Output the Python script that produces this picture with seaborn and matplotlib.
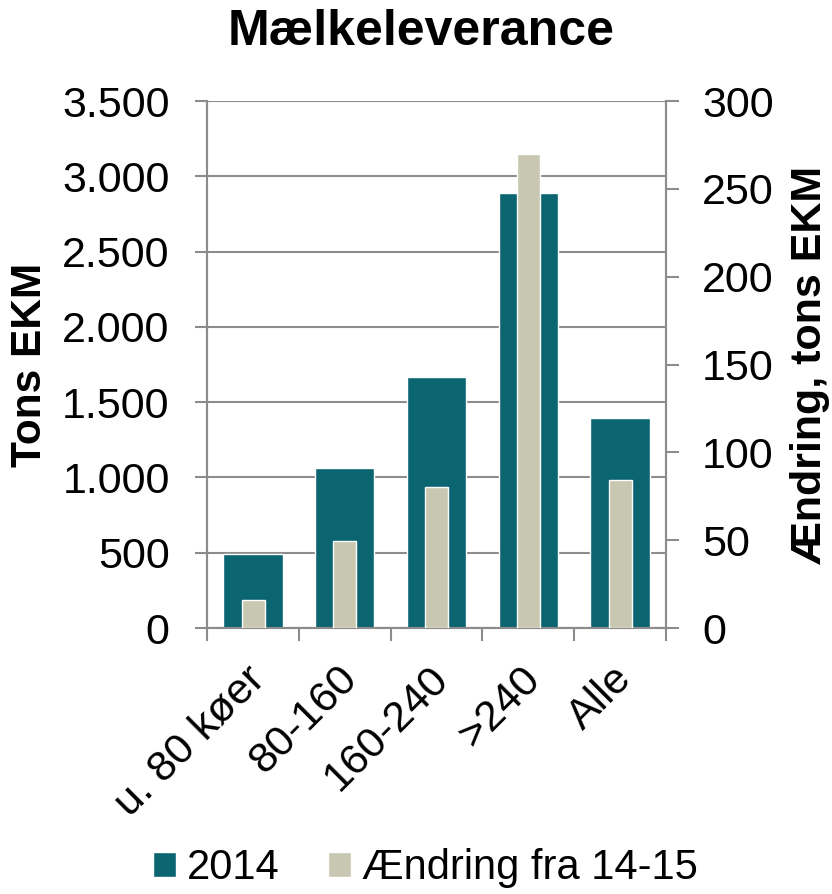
import matplotlib
matplotlib.use("Agg")
import matplotlib.pyplot as plt
import matplotlib.transforms as mtransforms
import seaborn as sns
import pandas as pd
from matplotlib.ticker import FuncFormatter, FixedLocator
from matplotlib.patches import Patch

categories = ["u. 80 køer", "80-160", "160-240", ">240", "Alle"]
values_2014 = [495, 1060, 1670, 2890, 1398]
values_change = [16, 49.5, 80, 270, 84.5]
series_names = ["2014", "Ændring fra 14-15"]

teal = "#0A6570"
beige = "#C8C8B2"
grid = "#8C8C8C"

sns.set_theme(style="white")
plt.rcParams['font.family'] = ['Liberation Sans', 'DejaVu Sans']
plt.rcParams['text.color'] = 'black'
plt.rcParams['axes.labelcolor'] = 'black'
plt.rcParams['xtick.labelcolor'] = 'black'
plt.rcParams['ytick.labelcolor'] = 'black'

fig = plt.figure(figsize=(8.32, 8.94), dpi=100)
ax = fig.add_axes([0.249, 0.2975, 0.5515, 0.5895])
ax2 = ax.twinx()

df1 = pd.DataFrame({"cat": categories, "val": values_2014})
df2 = pd.DataFrame({"cat": categories, "val": values_change})

sns.barplot(data=df1, x="cat", y="val", color=teal, width=0.646, ax=ax, saturation=1, zorder=2)
sns.barplot(data=df2, x="cat", y="val", color=beige, width=0.25, ax=ax2, saturation=1, zorder=3)

ax.set_ylim(0, 3500)
ax2.set_ylim(0, 300)
ax.set_xlim(-0.5, 4.5)
ax.set_yticks(range(0, 3501, 500))
ax2.set_yticks(range(0, 301, 50))
ax.yaxis.set_major_formatter(FuncFormatter(lambda v, p: f"{int(v):,}".replace(",", ".")))

ax.grid(axis="y", color=grid, linewidth=1.5, zorder=0)
ax.set_axisbelow(True)
ax2.grid(False)

for a in (ax, ax2):
    for s in a.spines.values():
        s.set_color(grid)
        s.set_linewidth(1.5)
    a.spines['top'].set_visible(False)

ax.tick_params(axis="y", direction="out", length=9, width=1.5, color=grid, labelsize=31, pad=18, left=True)
ax2.tick_params(axis="y", direction="out", length=9, width=1.5, color=grid, labelsize=31, pad=17, right=True)

ax.set_xticks(range(len(categories)))
ax.set_xticklabels(categories, rotation=45, ha="right", rotation_mode="anchor", fontsize=31)
ax.tick_params(axis="x", which="major", length=0, pad=22)
ax.xaxis.set_minor_locator(FixedLocator([i - 0.5 for i in range(len(categories) + 1)]))
ax.tick_params(axis="x", which="minor", direction="out", length=9, width=1.5, color=grid, bottom=True)
shift = mtransforms.ScaledTranslation(-8 / 100, 0, fig.dpi_scale_trans)
for lbl in ax.get_xticklabels():
    lbl.set_transform(lbl.get_transform() + shift)

ax.set_xlabel("")
ax.set_ylabel("Tons EKM", fontsize=30.5, fontweight="bold", va="center")
ax.yaxis.set_label_coords(-0.386, 0.5)
ax2.set_ylabel("Ændring, tons EKM", fontsize=31, fontweight="bold", va="center")
ax2.yaxis.set_label_coords(1.314, 0.5)

fig.suptitle("Mælkeleverance", x=0.506, y=0.99, fontsize=36, fontweight="bold")

handles = [Patch(facecolor=teal, label=series_names[0]), Patch(facecolor=beige, label=series_names[1])]
fig.legend(handles=handles, loc="center", bbox_to_anchor=(0.511, 0.029), ncol=2, frameon=False,
           fontsize=30, handlelength=0.55, handleheight=0.55, handletextpad=0.26, columnspacing=1.17)

fig.savefig("out.png", dpi=100)
